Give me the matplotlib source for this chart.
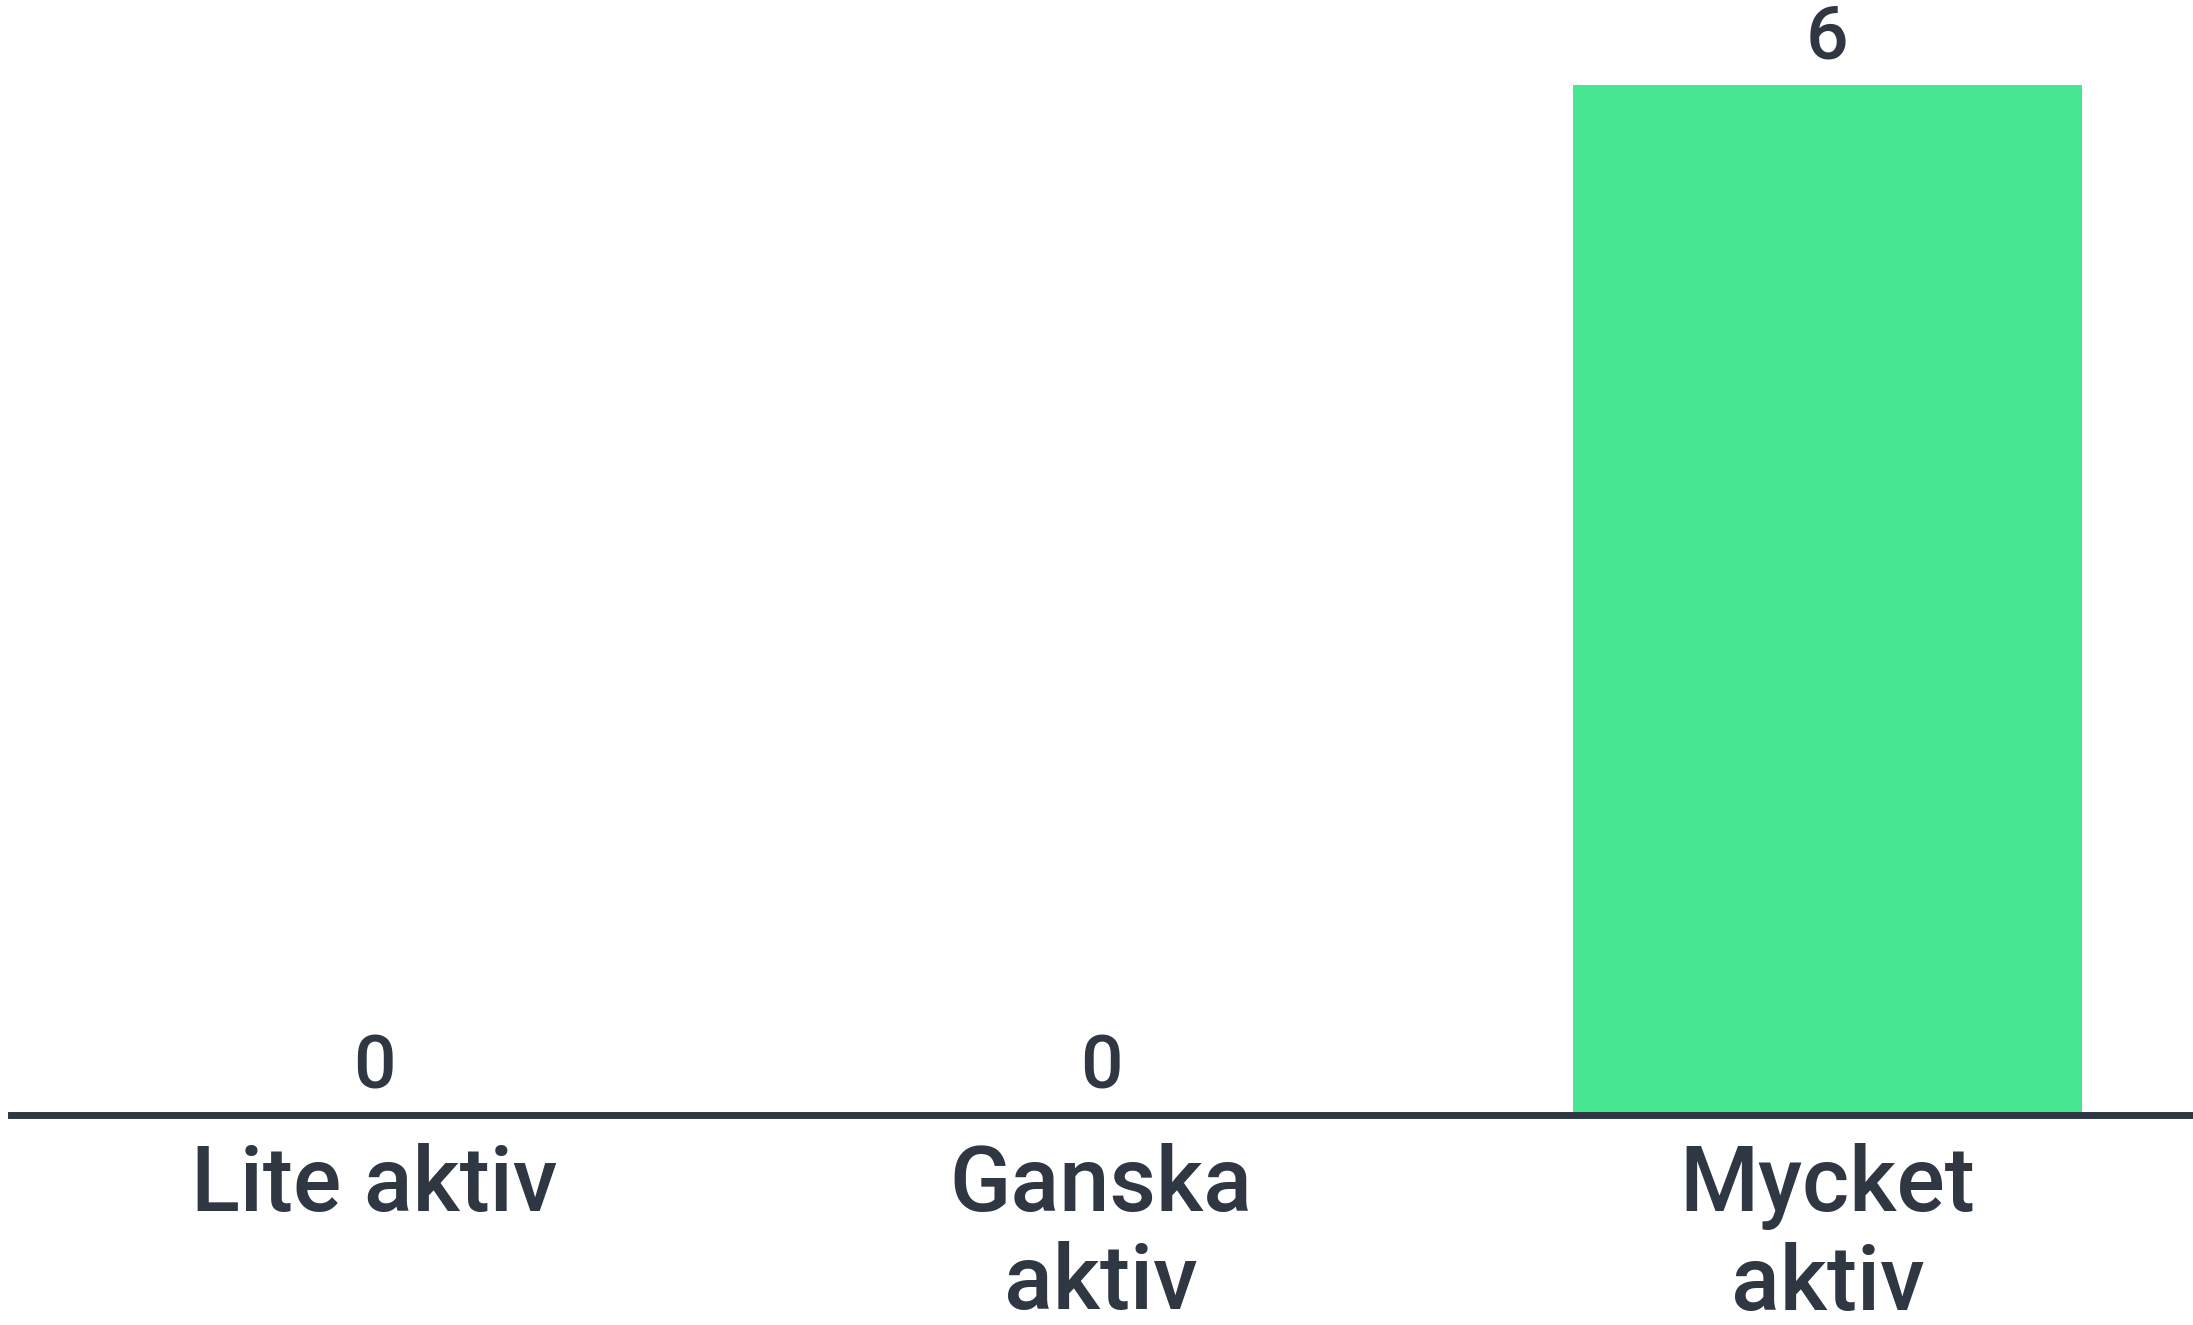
import matplotlib
matplotlib.use("Agg")
import matplotlib.pyplot as plt

categories = ["Lite aktiv", "Ganska\naktiv", "Mycket\naktiv"]
values = [0, 0, 6]

bar_color = "#46E692"
text_color = "#2F3742"

plt.rcParams['font.family'] = ['Roboto', 'DejaVu Sans']

fig = plt.figure(figsize=(21.93, 13.25), dpi=100)
ax = fig.add_axes([0.005, 1 - 1115 / 1325, 0.994, (1115 - 85) / 1325])

x = list(range(len(categories)))
bars = ax.bar(x, values, width=0.7, color=bar_color, zorder=2)

ax.set_xlim(-0.5, 2.5)
ax.set_ylim(0, 6)

for xi, v in zip(x, values):
    ax.annotate(str(v), (xi, v), xytext=(0, 19), textcoords="offset points",
                ha="center", va="baseline", fontsize=54,
                color=text_color, fontweight="medium", annotation_clip=False)

for s in ["top", "right", "left"]:
    ax.spines[s].set_visible(False)
ax.spines["bottom"].set_linewidth(5)
ax.spines["bottom"].set_color(text_color)
ax.spines["bottom"].set_zorder(3)

ax.set_yticks([])
ax.set_xticks(x)
ax.set_xticklabels(categories, fontsize=65, color=text_color,
                   fontweight="medium", linespacing=1.18)
ax.tick_params(axis="x", length=0, pad=20)

fig.savefig("out.png", dpi=100, facecolor="white")
